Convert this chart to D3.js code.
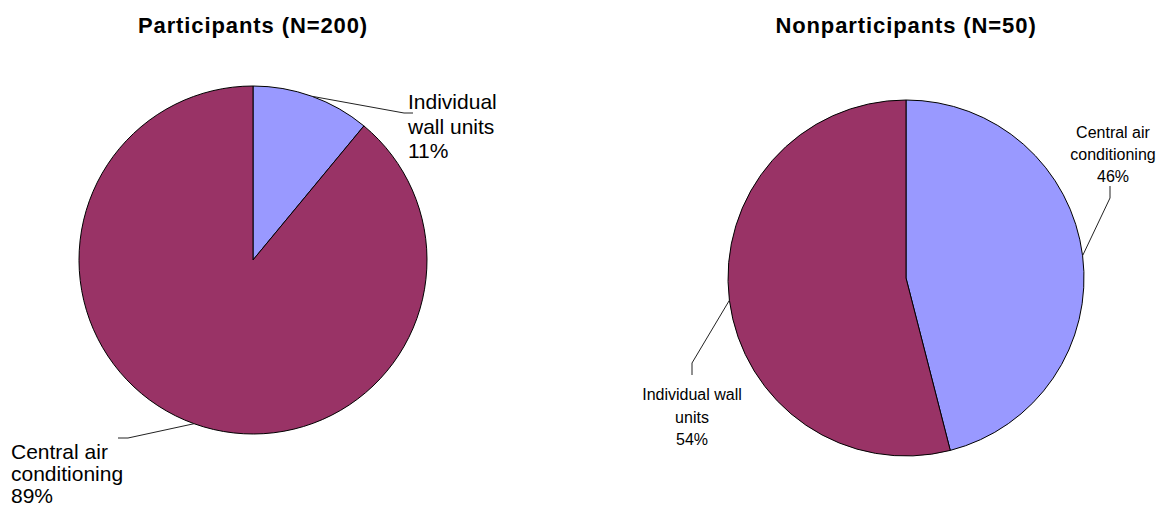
<!DOCTYPE html>
<html>
<head>
<meta charset="utf-8">
<script src="https://cdn.jsdelivr.net/npm/d3@7"></script>
<style>
  body { margin: 0; background: #fff; }
  svg text { font-family: "Liberation Sans", Arial, sans-serif; fill: #000; }
</style>
</head>
<body>
<div id="chart"></div>
<script>
// data
var chartTitles = ["Participants (N=200)", "Nonparticipants (N=50)"];
var partCategories = ["Individual wall units", "Central air conditioning"];
var partValues = [11, 89];
var nonCategories = ["Central air conditioning", "Individual wall units"];
var nonValues = [46, 54];
var sliceColors = ["#9999FF", "#993366"];

var svg = d3.select("#chart").append("svg")
	.attr("width", 1165)
	.attr("height", 508);

var pie = d3.pie().sort(null).value(function(d) { return d.value; });

// draws one pie with its labels
// labels: [lines, leader end points, text x, first baseline, line height, anchor]
var drawPie = function(cats, vals, cx, cy, r, title, labels, fontSize) {
	var data = cats.map(function(c, i) { return {name: c, value: vals[i]}; });
	var arcs = pie(data);
	var arc = d3.arc().innerRadius(0).outerRadius(r);

	var g = svg.append("g").attr("transform", "translate(" + cx + "," + cy + ")");

	g.selectAll("path")
		.data(arcs)
	  .enter().append("path")
		.attr("d", arc)
		.attr("fill", function(d, i) { return sliceColors[i]; })
		.attr("stroke", "#000")
		.attr("stroke-width", 1);

	svg.append("text")
		.attr("x", cx)
		.attr("y", 33)
		.attr("text-anchor", "middle")
		.attr("font-weight", "bold")
		.attr("font-size", "22px")
		.attr("letter-spacing", "0.9px")
		.text(title);

	arcs.forEach(function(a, i) {
		var lab = labels[i];
		var mid = (a.startAngle + a.endAngle) / 2;
		var start = [cx + r * Math.sin(mid), cy - r * Math.cos(mid)];
		var pts = [start].concat(lab.leader);
		svg.append("path")
			.attr("d", d3.line()(pts))
			.attr("fill", "none")
			.attr("stroke", "#222")
			.attr("stroke-width", 1);

		var pct = Math.round(a.value / d3.sum(vals) * 100) + "%";
		var lines = lab.lines.concat([pct]);
		var t = svg.append("text")
			.attr("font-size", fontSize)
			.attr("text-anchor", lab.anchor);
		lines.forEach(function(s, k) {
			t.append("tspan")
				.attr("x", lab.x)
				.attr("y", lab.y + k * lab.lh)
				.text(s);
		});
	});
};

drawPie(partCategories, partValues, 253, 260, 174, chartTitles[0], [
	{lines: ["Individual", "wall units"], leader: [[404, 113], [413, 113]], x: 408, y: 109, lh: 24.5, anchor: "start"},
	{lines: ["Central air", "conditioning"], leader: [[128, 438], [118, 438]], x: 11, y: 459, lh: 22, anchor: "start"}
], "21px");

drawPie(nonCategories, nonValues, 906, 278, 178, chartTitles[1], [
	{lines: ["Central air", "conditioning"], leader: [[1110, 198], [1110, 186]], x: 1113, y: 138, lh: 22, anchor: "middle"},
	{lines: ["Individual wall", "units"], leader: [[692, 363], [692, 375]], x: 692, y: 400, lh: 22.5, anchor: "middle"}
], "16px");
</script>
</body>
</html>
